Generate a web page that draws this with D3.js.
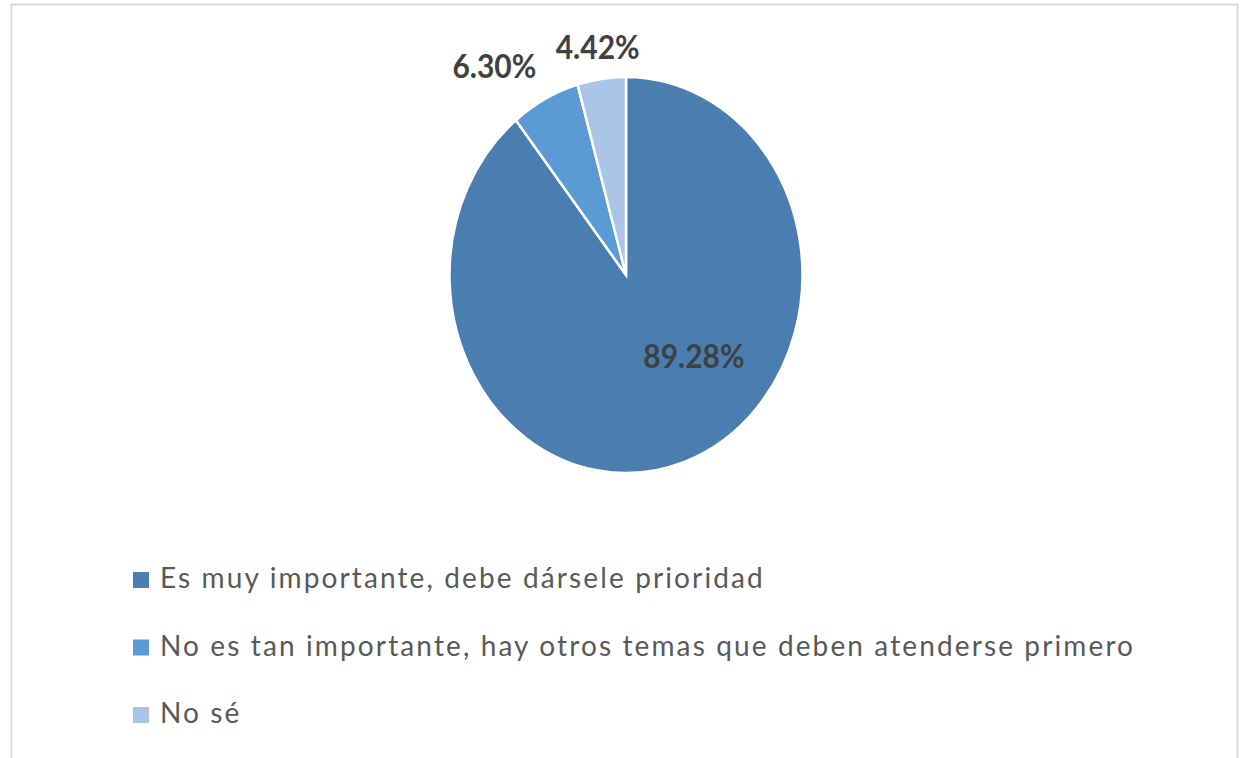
<!DOCTYPE html>
<html>
<head>
<meta charset="utf-8">
<script src="https://cdn.jsdelivr.net/npm/d3@7"></script>
<style>
  html, body { margin: 0; padding: 0; background: #fff; }
  svg { display: block; }
</style>
</head>
<body>
<svg id="chart" width="1243" height="758"></svg>
<script>
// chart data
const categories = [
    "Es muy importante, debe dársele prioridad",
    "No es tan importante, hay otros temas que deben atenderse primero",
    "No sé"
];
const values = [89.28, 6.30, 4.42];
const valueLabels = ["89.28%", "6.30%", "4.42%"];
const colors = ["#4a7eb1", "#5b9bd5", "#abc5e6"];

// layout
const width = 1243, height = 758;
const cx = 626, cy = 275;
const rx = 176.5, ry = 198;   // pie is a bit stretched vertically
const yScale = ry / rx;

const svg = d3.select("#chart");

// outer frame
svg.append("rect")
    .attr("x", 11.5)
    .attr("y", 4.5)
    .attr("width", 1226)
    .attr("height", 764)
    .attr("fill", "#fff")
    .attr("stroke", "#d9d9d9")
    .attr("stroke-width", 2);

const pie = d3.pie().sort(null).value(d => d);
const arcs = pie(values);

const arc = d3.arc().innerRadius(0).outerRadius(rx);

const g = svg.append("g")
    .attr("transform", "translate(" + cx + "," + cy + ") scale(1," + yScale + ")");

g.selectAll("path.slice")
    .data(arcs)
    .enter().append("path")
    .attr("class", "slice")
    .attr("d", arc)
    .attr("fill", (d, i) => colors[i])
    .attr("stroke", "#fff")
    .attr("stroke-width", 2.5)
    .attr("vector-effect", "non-scaling-stroke");

// data labels: the big one sits inside, the small ones outside
const insideArc = d3.arc().innerRadius(rx * 0.565).outerRadius(rx * 0.565);
const outsideArc = d3.arc().innerRadius(rx * 1.16).outerRadius(rx * 1.16);
const insideNudge = [35, -24];
const labelSize = 30;

arcs.forEach((d, i) => {
    const inside = (d.endAngle - d.startAngle) > Math.PI;
    let p = inside ? insideArc.centroid(d) : outsideArc.centroid(d);
    let x = cx + p[0], y = cy + p[1] * yScale;
    let anchor = "middle";
    if (inside) {
        x += insideNudge[0];
        y += insideNudge[1];
    } else {
        const mid = (d.startAngle + d.endAngle) / 2;
        const s = Math.sin(mid);
        if (s < -0.3) { anchor = "end"; x += 4; y -= 4; }
        else if (s > 0.3) anchor = "start";
    }
    svg.append("text")
        .attr("transform", "translate(" + x + "," + (y + 11) + ") scale(1,1.1)")
        .attr("text-anchor", anchor)
        .attr("font-family", "Lato, 'Open Sans', sans-serif")
        .attr("font-weight", "bold")
        .attr("font-size", labelSize)
        .attr("fill", "#404040")
        .text(valueLabels[i]);
});

// legend
const legendX = 133, legendTop = 580, legendStep = 67.5;
const legend = svg.append("g");

const rows = legend.selectAll("g.row")
    .data(categories)
    .enter().append("g")
    .attr("class", "row")
    .attr("transform", (d, i) => "translate(" + legendX + "," + (legendTop + i * legendStep) + ")");

rows.append("rect")
    .attr("x", 0)
    .attr("y", -8)
    .attr("width", 16)
    .attr("height", 16)
    .attr("fill", (d, i) => colors[i]);

const texts = rows.append("text")
    .attr("x", 27)
    .attr("y", 8)
    .attr("font-family", "Lato, 'Open Sans', sans-serif")
    .attr("font-size", 28)
    .attr("fill", "#595959")
    .text(d => d);

// spread the letters the way the original does, fitted on the longest row
const longest = texts.nodes()[1];
const natural = longest.getComputedTextLength();
const spacing = (973 - natural) / (categories[1].length - 1);
texts.attr("letter-spacing", spacing);
</script>
</body>
</html>
